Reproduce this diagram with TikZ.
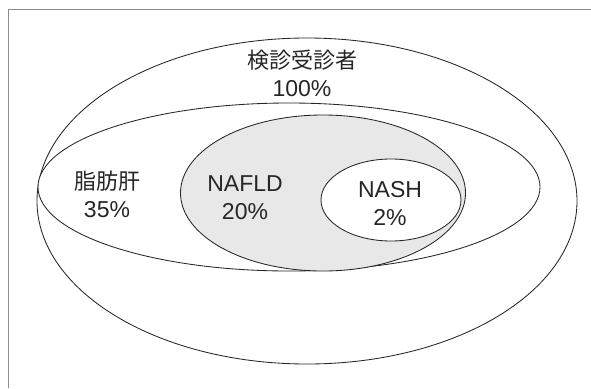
\documentclass[tikz,border=0pt]{standalone}
\usepackage{fontspec}
\setmainfont{Liberation Sans}
\newfontfamily\jpfont{Noto Sans CJK JP}
\usetikzlibrary{shapes.geometric}
\begin{document}
\begin{tikzpicture}[x=1pt,y=-1pt,
  ring/.style={draw=black!85, line width=0.85pt, ellipse, inner sep=0pt},
  lbl/.style={align=center, font=\fontsize{23}{28}\selectfont, text=black!85},
  jp/.style={},
  frameline/.style={draw=black!45, line width=0.5pt}]
\useasboundingbox (0,0) rectangle (591,388);
\coordinate (tl) at (8,9);
\coordinate (tr) at (591,9);
\coordinate (bl) at (8,388);
\draw[frameline] (tr) -- (tl) -- (bl);
\node[ring, fill=white, minimum width=540pt, minimum height=326pt] (all) at (307,201) {};
\node[ring, fill=white, minimum width=502pt, minimum height=168pt] (fat) at (289,187) {};
\node[ring, fill=black!9, minimum width=285pt, minimum height=156pt] (nafld) at (323,193) {};
\node[ring, fill=white, minimum width=140pt, minimum height=82pt] (nash) at (391,200) {};
\node[lbl] (tall) at (302,73) {{\jpfont\fontsize{22}{28}\selectfont 検診受診者}\\100\%};
\node[lbl] (tfat) at (107,194) {{\jpfont\fontsize{22}{28}\selectfont 脂肪肝}\\35\%};
\node[lbl] (tnafld) at (245,198) {NAFLD\\20\%};
\node[lbl] (tnash) at (390,204) {NASH\\2\%};
\end{tikzpicture}
\end{document}
